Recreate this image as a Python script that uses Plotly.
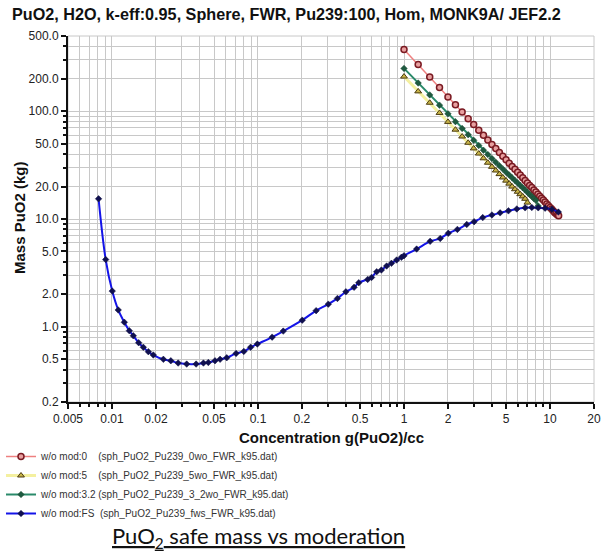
import plotly.graph_objects as go

# ---- data ----
x_mod0 = [1.0, 1.25, 1.5, 1.75, 2.0, 2.25, 2.5, 2.75, 3.0, 3.25, 3.5, 3.75, 4.0, 4.25, 4.5, 4.75,
          5.0, 5.25, 5.5, 5.75, 6.0, 6.25, 6.5, 6.75, 7.0, 7.25, 7.5, 7.75, 8.0, 8.25, 8.5, 8.75,
          9.0, 9.25, 9.5, 9.75, 10.0, 10.25, 10.5, 10.75, 11.0, 11.25, 11.45]
y_mod0 = [375, 272, 208, 166, 136, 115, 98.3, 85.4, 75.2, 66.8, 59.9, 54.2, 49.2, 45.1, 41.4, 38.3,
          35.5, 33.0, 30.8, 28.9, 27.1, 25.6, 24.1, 22.8, 21.6, 20.5, 19.6, 18.6, 17.8, 17.0, 16.3, 15.6,
          15.0, 14.4, 13.8, 13.3, 12.8, 12.4, 11.9, 11.5, 11.2, 10.9, 10.7]

x_mod5 = [1.0, 1.25, 1.5, 1.75, 2.0, 2.25, 2.5, 2.75, 3.0, 3.25, 3.5, 3.75, 4.0, 4.25, 4.5, 4.75,
          5.0, 5.25, 5.5, 5.75, 6.0, 6.25, 6.5, 6.75, 7.0]
y_mod5 = [210, 153, 120, 96.5, 79.7, 67.5, 58.3, 51.0, 45.2, 40.5, 36.6, 33.3, 30.5, 28.2, 26.1, 24.3,
          22.7, 21.3, 20.0, 18.9, 17.9, 17.0, 16.2, 15.4, 14.2]

x_mod32 = [1.0, 1.25, 1.5, 1.75, 2.0, 2.25, 2.5, 2.75, 3.0, 3.25, 3.5, 3.75, 4.0, 4.25, 4.5, 4.75,
           5.0, 5.25, 5.5, 5.75, 6.0, 6.25, 6.5, 6.75, 7.0, 7.25, 7.5, 7.75, 8.0, 8.3]
y_mod32 = [250, 183, 142, 114, 94.7, 80.1, 69.3, 60.6, 53.7, 48.1, 43.5, 39.7, 36.4, 33.6, 31.2, 29.1,
           27.2, 25.6, 24.1, 22.8, 21.6, 20.5, 19.5, 18.6, 17.7, 16.9, 16.2, 15.5, 14.9, 13.2]

x_fs = [0.0081, 0.00906, 0.01005, 0.01104, 0.01215, 0.01315, 0.0140, 0.01524, 0.0164, 0.01775,
        0.0192, 0.0225, 0.0253, 0.0284, 0.0325, 0.0377, 0.0423, 0.0457, 0.0508, 0.055, 0.0611,
        0.0708, 0.0800, 0.089, 0.099, 0.125, 0.149, 0.201, 0.25, 0.303, 0.35, 0.40, 0.455, 0.49,
        0.564, 0.60, 0.65, 0.70, 0.76, 0.82, 0.89, 0.96, 1.0, 1.22, 1.51, 1.77, 2.01, 2.32, 2.69,
        3.02, 3.46, 4.0, 4.55, 5.19, 5.92, 6.75, 7.5, 8.3, 9.25, 10.3, 11.4]
y_fs = [15.4, 4.2, 2.14, 1.43, 1.10, 0.918, 0.824, 0.71, 0.644, 0.586,
        0.546, 0.498, 0.483, 0.46, 0.45, 0.45, 0.46, 0.465, 0.483, 0.498, 0.515,
        0.565, 0.59, 0.644, 0.69, 0.80, 0.91, 1.15, 1.41, 1.62, 1.83, 2.11, 2.32, 2.56,
        2.75, 2.87, 3.24, 3.36, 3.66, 3.88, 4.16, 4.41, 4.56, 5.26, 6.2, 6.6, 7.37, 8.0, 8.9,
        9.44, 10.3, 10.9, 11.4, 11.9, 12.4, 12.7, 12.8, 12.7, 12.6, 12.3, 11.6]

x_tickvals = [0.005, 0.01, 0.02, 0.05, 0.1, 0.2, 0.5, 1, 2, 5, 10, 20]
x_ticktext = ["0.005", "0.01", "0.02", "0.05", "0.1", "0.2", "0.5", "1", "2", "5", "10", "20"]
y_tickvals = [0.2, 0.5, 1, 2, 5, 10, 20, 50, 100, 200, 500]
y_ticktext = ["0.2", "0.5", "1.0", "2.0", "5.0", "10.0", "20.0", "50.0", "100.0", "200.0", "500.0"]

names = [
    "w/o mod:0\u00a0\u00a0\u00a0\u00a0(sph_PuO2_Pu239_0wo_FWR_k95.dat)",
    "w/o mod:5\u00a0\u00a0\u00a0\u00a0(sph_PuO2_Pu239_5wo_FWR_k95.dat)",
    "w/o mod:3.2 (sph_PuO2_Pu239_3_2wo_FWR_k95.dat)",
    "w/o mod:FS\u00a0 (sph_PuO2_Pu239_fws_FWR_k95.dat)",
]

FONT = "Liberation Sans, Arial, sans-serif"
PW, PH = 526, 366  # plot area size in px (l=68, t=36)

fig = go.Figure()
fig.add_trace(go.Scatter(x=x_mod0, y=y_mod0, name=names[0], mode="lines+markers",
                         line=dict(color="#ee8080", width=1.5),
                         marker=dict(symbol="circle", size=6, color="#e8a0a0",
                                     line=dict(color="#7a1a22", width=1.5))))
fig.add_trace(go.Scatter(x=x_mod5, y=y_mod5, name=names[1], mode="lines+markers",
                         line=dict(color="#f4f0a0", width=3),
                         marker=dict(symbol="triangle-up", size=6, color="#c8b448",
                                     line=dict(color="#4a3a10", width=1))))
fig.add_trace(go.Scatter(x=x_mod32, y=y_mod32, name=names[2], mode="lines+markers",
                         line=dict(color="#2a8a6a", width=2),
                         marker=dict(symbol="diamond", size=5, color="#1e5a40",
                                     line=dict(color="#1e4a30", width=0.5))))
fig.add_trace(go.Scatter(x=x_fs, y=y_fs, name=names[3], mode="lines+markers",
                         line=dict(color="#1414e8", width=2, shape="spline"),
                         marker=dict(symbol="diamond", size=5, color="#101050",
                                     line=dict(color="#101040", width=0.5))))

grid = "#c8c8c8"
axis_common = dict(
    type="log", tickmode="array",
    ticks="outside", ticklen=5, tickwidth=1.5, tickcolor="#111",
    showline=True, linecolor="#111", linewidth=2, mirror=False,
    showgrid=True, gridcolor=grid, gridwidth=1, zeroline=False,
    tickfont=dict(size=12, color="#222"),
    minor=dict(dtick="D1", showgrid=True, gridcolor=grid, gridwidth=1,
               ticks="outside", ticklen=3, tickcolor="#111"),
)
fig.update_layout(
    width=610, height=551,
    margin=dict(l=68, r=16, t=36, b=149, autoexpand=False),
    paper_bgcolor="white", plot_bgcolor="white",
    font=dict(family=FONT, size=11, color="#222"),
    title=dict(text="<b>PuO2, H2O, k-eff:0.95, Sphere, FWR, Pu239:100, Hom, MONK9A/ JEF2.2</b>",
               x=12 / 610, xanchor="left", xref="container",
               y=1 - 14 / 551, yanchor="middle", yref="container",
               pad=dict(l=0, r=0, t=0, b=0),
               font=dict(size=16.2, color="#111", family=FONT)),
    showlegend=True,
    legend=dict(x=-67 / PW, xanchor="left", y=-40 / PH, yanchor="top",
                font=dict(size=10, color="#333", family=FONT),
                itemwidth=30, tracegroupgap=0, bgcolor="rgba(0,0,0,0)"),
    xaxis=dict(range=[-2.30103, 1.30103], tickvals=x_tickvals, ticktext=x_ticktext, **axis_common),
    yaxis=dict(range=[-0.69897, 2.69897], tickvals=y_tickvals, ticktext=y_ticktext, **axis_common),
    annotations=[
        dict(text="<b>Concentration g(PuO2)/cc</b>", xref="paper", yref="paper",
             x=(331 - 68) / PW, y=-(437 - 402) / PH, xanchor="center", yanchor="middle",
             showarrow=False, font=dict(size=15, color="#111", family=FONT)),
        dict(text="<b>Mass PuO2 (kg)</b>", xref="paper", yref="paper",
             x=-(68 - 19) / PW, y=(402 - 218) / PH, xanchor="center", yanchor="middle", showarrow=False,
             textangle=-90, font=dict(size=15, color="#111", family=FONT)),
        dict(text="<u>PuO<sub>2</sub> safe mass vs moderation</u>", xref="paper", yref="paper",
             x=(258 - 68) / PW, y=-(537 - 402) / PH, xanchor="center", yanchor="middle",
             showarrow=False, font=dict(size=22, color="#111", family="Lato, Carlito, sans-serif")),
    ],
)
fig.add_shape(type="rect", xref="paper", yref="paper", x0=0, y0=0, x1=1, y1=1,
              line=dict(color=grid, width=1), layer="below")

fig.write_html("out.html", config={"displayModeBar": False},
               post_script="document.body.style.margin='0';")
